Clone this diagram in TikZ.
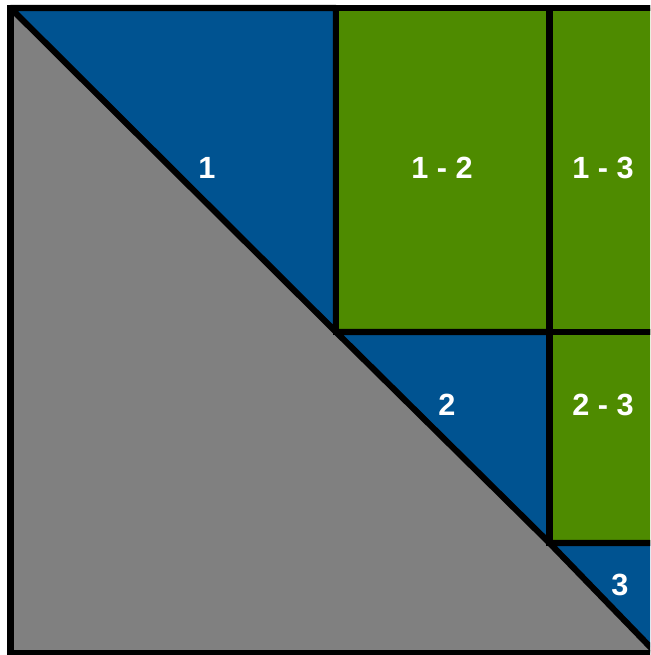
\documentclass[tikz,border=0pt]{standalone}
\usepackage{fontspec}
\setmainfont{Liberation Sans}
\usepackage{tikz}
\usetikzlibrary{positioning}
\definecolor{tblue}{RGB}{0,83,145}
\definecolor{tgreen}{RGB}{78,139,0}
\definecolor{tgrey}{RGB}{128,128,128}

\begin{document}
\begin{tikzpicture}[
  x=0.75pt, y=-0.75pt,
  cell/.style={draw=black, line width=4.6pt, line join=miter},
  tri/.style={cell, fill=tblue, line join=bevel},
  lbl/.style={text=white, font=\fontsize{23}{26}\selectfont\bfseries, inner sep=0pt}
]
  \useasboundingbox (0,0) rectangle (650,655);
  \clip (0,0) rectangle (650,655);

  % grid lines
  \def\xa{10.5} \def\xb{336} \def\xc{549.5} \def\xd{656}
  \def\ya{8}    \def\yb{332} \def\yc{543}   \def\yd{653}

  \fill[tgrey] (\xa,\ya) -- (\xa,\yd) -- (\xd,\yd) -- cycle;
  \filldraw[tri] (\xa,\ya) -- (\xb,\ya) -- (\xb,\yb) -- cycle;
  \filldraw[cell, fill=tgreen] (\xb,\ya) rectangle (\xc,\yb);
  \filldraw[cell, fill=tgreen] (\xc,\ya) rectangle (\xd,\yb);
  \filldraw[tri] (\xb,\yb) -- (\xc,\yb) -- (\xc,\yc) -- cycle;
  \filldraw[cell, fill=tgreen] (\xc,\yb) rectangle (\xd,\yc);
  \filldraw[tri] (\xc,\yc) -- (\xd,\yc) -- (\xd,\yd) -- cycle;
  \draw[cell] (\xa,\ya) rectangle (\xd,\yd);

  \node[lbl] (t1)  at (207,168) {1};
  \node[lbl] (t12) at (442,168) {1 - 2};
  \node[lbl] (t13) at (603,168) {1 - 3};
  \node[lbl] (t2)  at (447,405) {2};
  \node[lbl] (t23) at (603,405) {2 - 3};
  \node[lbl] (t3)  at (620,585) {3};
\end{tikzpicture}
\end{document}
